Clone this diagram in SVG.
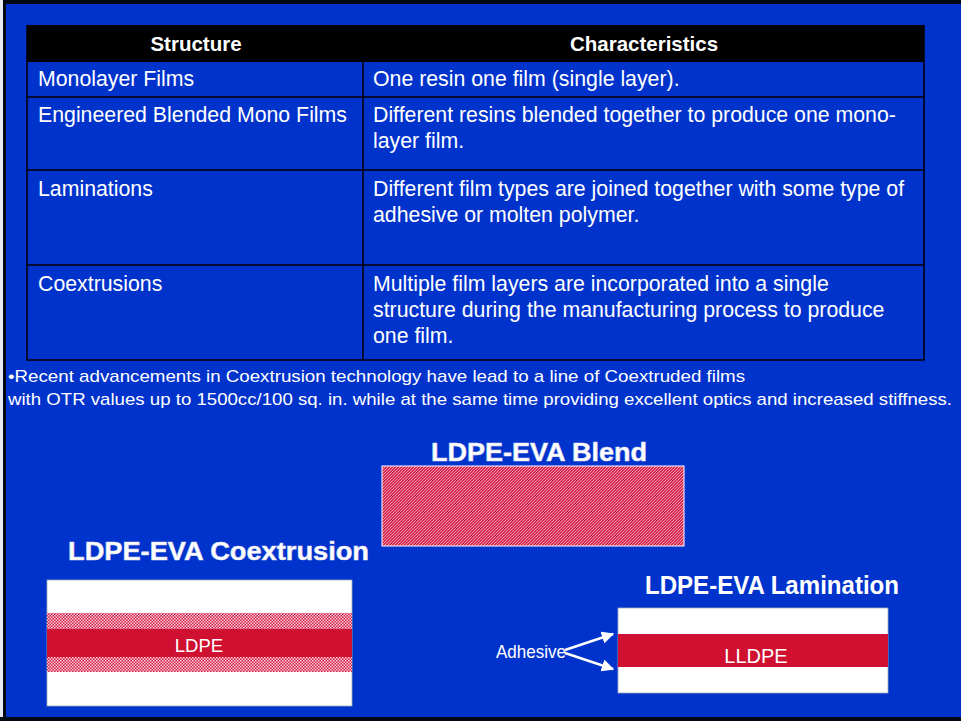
<svg xmlns="http://www.w3.org/2000/svg" width="961" height="721" viewBox="0 0 961 721">
<style>
.t{font-family:"Liberation Sans",Arial,sans-serif;fill:#fff}
.cell{font-size:21.3px}
.hd{font-size:20.5px;font-weight:bold}
.note{font-size:17px}
.title{font-size:25px;font-weight:bold;stroke:#dde;stroke-width:0.6}
.grid{stroke:#000;stroke-width:1.5;fill:none}
</style>
<defs>
<pattern id="diag" width="3" height="3" patternUnits="userSpaceOnUse">
<rect width="3" height="3" fill="#d82850"/>
<path d="M0 3L3 0M-1 1L1 -1M2 4L4 2" stroke="#f3b8c6" stroke-width="0.8"/>
</pattern>
<pattern id="chk" width="3" height="3" patternUnits="userSpaceOnUse">
<rect width="3" height="3" fill="#d51c46"/>
<rect width="1.5" height="1.5" fill="#f7d0d8"/>
<rect x="1.5" y="1.5" width="1.5" height="1.5" fill="#f7d0d8"/>
</pattern>
<marker id="ah" viewBox="0 0 10 10" refX="9" refY="5" markerWidth="5" markerHeight="5" orient="auto">
<path d="M0 0L10 5L0 10z" fill="#fff"/>
</marker>
</defs>
<rect width="961" height="721" fill="#0033cc"/>
<rect x="0" y="0" width="961" height="4" fill="#000814"/>
<rect x="0" y="0" width="3" height="721" fill="#e8e8f0"/>
<rect x="3" y="0" width="3" height="721" fill="#000814"/>
<rect x="0" y="717" width="961" height="4" fill="#000814"/>

<g id="table">
<rect x="27" y="25" width="897" height="37" fill="#000"/>
<rect x="27" y="62" width="897" height="298" fill="#0033cc"/>
<path class="grid" d="M27 25V360H924V25M363 62V360M27 97H924M27 170H924M27 265H924"/>
<text class="t hd" x="196" y="51" text-anchor="middle">Structure</text>
<text class="t hd" x="644" y="51" text-anchor="middle">Characteristics</text>
<text class="t cell" x="38" y="86">Monolayer Films</text>
<text class="t cell" x="373" y="86">One resin one film (single layer).</text>
<text class="t cell" x="38" y="122">Engineered Blended Mono Films</text>
<text class="t cell" x="373" y="122">Different resins blended together to produce one mono-</text>
<text class="t cell" x="373" y="148">layer film.</text>
<text class="t cell" x="38" y="196">Laminations</text>
<text class="t cell" x="373" y="196">Different film types are joined together with some type of</text>
<text class="t cell" x="373" y="222">adhesive or molten polymer.</text>
<text class="t cell" x="38" y="291">Coextrusions</text>
<text class="t cell" x="373" y="291">Multiple film layers are incorporated into a single</text>
<text class="t cell" x="373" y="317">structure during the manufacturing process to produce</text>
<text class="t cell" x="373" y="343">one film.</text>
</g>

<g id="note">
<text class="t note" x="8" y="382" textLength="737" lengthAdjust="spacingAndGlyphs">•Recent advancements in Coextrusion technology have lead to a line of Coextruded films</text>
<text class="t note" x="8" y="405" textLength="944" lengthAdjust="spacingAndGlyphs">with OTR values up to 1500cc/100 sq. in. while at the same time providing excellent optics and increased stiffness.</text>
</g>

<g id="blend">
<text class="t title" x="431" y="461" textLength="216" lengthAdjust="spacingAndGlyphs">LDPE-EVA Blend</text>
<rect x="382" y="466" width="302" height="80" fill="url(#diag)" stroke="#fff" stroke-width="1"/>
</g>

<g id="coextrusion">
<text class="t title" x="68" y="560" textLength="301" lengthAdjust="spacingAndGlyphs">LDPE-EVA Coextrusion</text>
<rect x="47" y="580" width="305" height="126" fill="#fff" stroke="#9ab" stroke-width="0.8"/>
<rect x="47" y="613" width="305" height="16" fill="url(#chk)"/>
<rect x="47" y="629" width="305" height="28" fill="#d01030"/>
<rect x="47" y="657" width="305" height="15" fill="url(#chk)"/>
<text class="t" x="199" y="652" text-anchor="middle" font-size="18.5">LDPE</text>
</g>

<g id="lamination">
<text class="t" x="645" y="594" font-size="25" font-weight="bold" textLength="254" lengthAdjust="spacingAndGlyphs">LDPE-EVA Lamination</text>
<rect x="618" y="608" width="270" height="85" fill="#fff" stroke="#9ab" stroke-width="0.8"/>
<rect x="618" y="634" width="270" height="33" fill="#d01030"/>
<text class="t" x="756" y="663" text-anchor="middle" font-size="20">LLDPE</text>
</g>

<g id="adhesive">
<text class="t" x="496" y="658" font-size="19" textLength="70" lengthAdjust="spacingAndGlyphs">Adhesive</text>
</g>

<g id="connectors" stroke="#fff" stroke-width="2.5" fill="none">
<line x1="565" y1="650" x2="613" y2="634" marker-end="url(#ah)"/>
<line x1="565" y1="653" x2="613" y2="669" marker-end="url(#ah)"/>
</g>
</svg>
